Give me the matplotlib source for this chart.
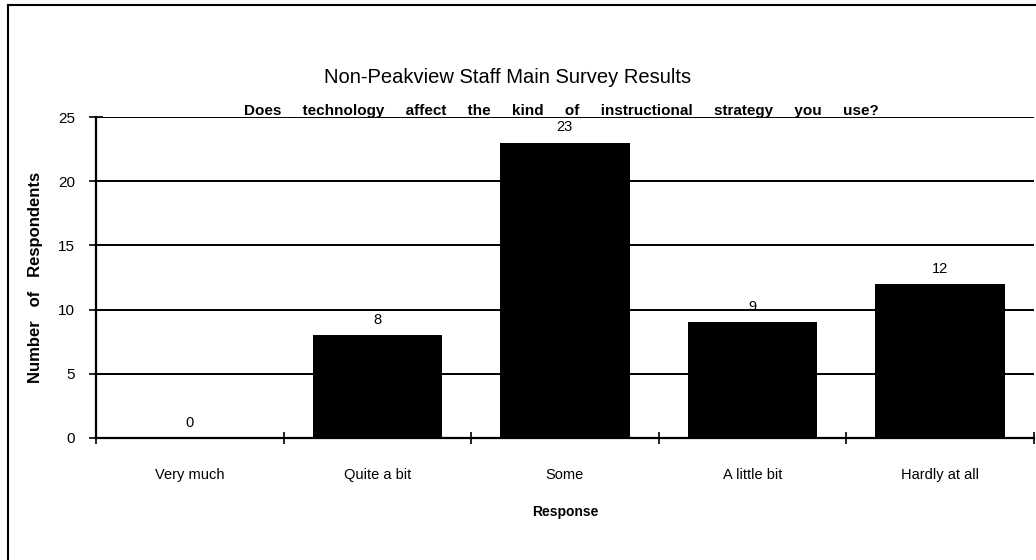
import numpy as np
import matplotlib.pyplot as plt
from matplotlib.lines import Line2D

plt.rcParams['font.family'] = ['Liberation Sans', 'DejaVu Sans']

categories = ['Very much', 'Quite a bit', 'Some', 'A little bit', 'Hardly at all']
counts = [0, 8, 23, 9, 12]
yticks = [0, 5, 10, 15, 20, 25]

fig = plt.figure(figsize=(10.36, 5.6), dpi=100)
ax = fig.add_axes([0.0927, 0.218, 0.905, 0.573])

x = np.arange(len(categories))
ax.bar(x, counts, width=0.69, color='black', zorder=3)

# grid lines across the plot
for v in yticks[1:]:
    ax.axhline(v, color='black', lw=1.4, zorder=1)

for xi, c in zip(x, counts):
    ax.annotate(str(c), (xi, c), xytext=(0, 6), textcoords='offset points',
                ha='center', va='bottom', fontsize=10.5, zorder=4)

ax.set_xlim(-0.5, 4.5)
ax.set_ylim(0, 25)
ax.set_yticks(yticks)
ax.set_yticklabels([str(v) for v in yticks], fontsize=11)
ax.set_xticks(x)
ax.set_xticklabels(categories, fontsize=10.5)
ax.set_xticks(np.arange(-0.5, 5, 1), minor=True)
ax.tick_params(axis='x', which='major', length=0, pad=22)
ax.tick_params(axis='x', which='minor', direction='inout', length=8, width=1.2)
ax.tick_params(axis='y', direction='inout', length=10, width=1.2, pad=10)

for s in ['top', 'right']:
    ax.spines[s].set_visible(False)
ax.spines['left'].set_linewidth(1.6)
ax.spines['bottom'].set_linewidth(1.6)

ax.set_ylabel('Number   of   Respondents', fontsize=12, fontweight='bold', labelpad=11)
ax.set_xlabel('Response', fontsize=10, fontweight='bold', labelpad=16)

fig.text(0.49, 0.862, 'Non-Peakview Staff Main Survey Results', ha='center', va='center', fontsize=14.5)
sub = '     '.join('Does technology affect the kind of instructional strategy you use?'.split())
fig.text(0.5415, 0.802, sub, ha='center', va='center', fontsize=11, fontweight='bold')

# page frame of the scan
fig.add_artist(Line2D([0.008, 1.0], [0.991, 0.991], color='black', lw=1.5))
fig.add_artist(Line2D([0.008, 0.008], [0.0, 0.991], color='black', lw=1.5))

fig.savefig('out.png', dpi=100)
